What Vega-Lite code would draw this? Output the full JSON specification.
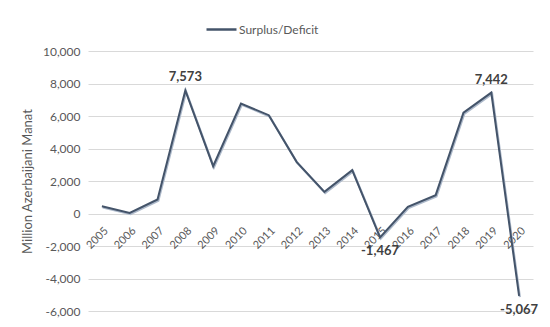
{
  "$schema": "https://vega.github.io/schema/vega-lite/v6.json",
  "width": 445,
  "height": 260,
  "autosize": {"type": "none"},
  "padding": {"left": 88, "top": 51, "right": 17, "bottom": 16},
  "background": "white",
  "config": {
    "view": {"stroke": null},
    "font": "Lato",
    "locale": {
      "number": {
        "decimal": ".",
        "thousands": ",",
        "grouping": [3],
        "currency": ["$", ""],
        "minus": "-"
      }
    }
  },
  "data": {
    "values": [
      {"year": "2005", "value": 450},
      {"year": "2006", "value": 40},
      {"year": "2007", "value": 860},
      {"year": "2008", "value": 7573},
      {"year": "2009", "value": 2910},
      {"year": "2010", "value": 6770},
      {"year": "2011", "value": 6050},
      {"year": "2012", "value": 3180},
      {"year": "2013", "value": 1330},
      {"year": "2014", "value": 2670},
      {"year": "2015", "value": -1467},
      {"year": "2016", "value": 410},
      {"year": "2017", "value": 1130},
      {"year": "2018", "value": 6210},
      {"year": "2019", "value": 7442},
      {"year": "2020", "value": -5067}
    ]
  },
  "encoding": {
    "x": {
      "field": "year",
      "type": "ordinal",
      "scale": {"type": "point", "padding": 0.5},
      "axis": {
        "title": null,
        "offset": -97.5,
        "domain": false,
        "ticks": false,
        "labelAngle": -45,
        "labelPadding": 11,
        "labelFont": "Lato",
        "labelFontSize": 11,
        "labelColor": "#595959"
      }
    },
    "y": {
      "field": "value",
      "type": "quantitative",
      "scale": {"domain": [-6000, 10000], "nice": false},
      "axis": {
        "title": "Million Azerbaijani Manat",
        "titleFont": "Lato",
        "titleFontSize": 13,
        "titleFontWeight": "normal",
        "titleColor": "#595959",
        "titlePadding": 8,
        "values": [-6000, -4000, -2000, 0, 2000, 4000, 6000, 8000, 10000],
        "format": ",d",
        "domain": false,
        "ticks": false,
        "labelPadding": 8,
        "labelFont": "Lato",
        "labelFontSize": 12,
        "labelColor": "#595959",
        "gridColor": "#D9D9D9",
        "gridWidth": 1
      }
    }
  },
  "layer": [
    {
      "mark": {"type": "line", "color": "#ADB9CA", "strokeWidth": 2.2, "xOffset": 0.8, "yOffset": 1.2}
    },
    {
      "mark": {"type": "line", "strokeWidth": 2},
      "encoding": {
        "color": {
          "datum": "Surplus/Deficit",
          "scale": {"range": ["#44546A"]},
          "legend": {
            "title": null,
            "orient": "none",
            "legendX": 117,
            "legendY": -38,
            "symbolType": "stroke",
            "symbolSize": 900,
            "symbolStrokeWidth": 2.5,
            "labelFont": "Lato",
            "labelFontSize": 12,
            "labelColor": "#595959",
            "labelOffset": 1
          }
        }
      }
    },
    {
      "transform": [{"filter": "datum.year == '2008' || datum.year == '2019'"}],
      "mark": {"type": "text", "dy": -13, "fontSize": 13, "fontWeight": "bold", "color": "#404040", "font": "Lato"},
      "encoding": {"text": {"field": "value", "format": ","}}
    },
    {
      "transform": [{"filter": "datum.year == '2015' || datum.year == '2020'"}],
      "mark": {"type": "text", "dy": 14, "fontSize": 13, "fontWeight": "bold", "color": "#404040", "font": "Lato"},
      "encoding": {"text": {"field": "value", "format": ","}}
    }
  ]
}
